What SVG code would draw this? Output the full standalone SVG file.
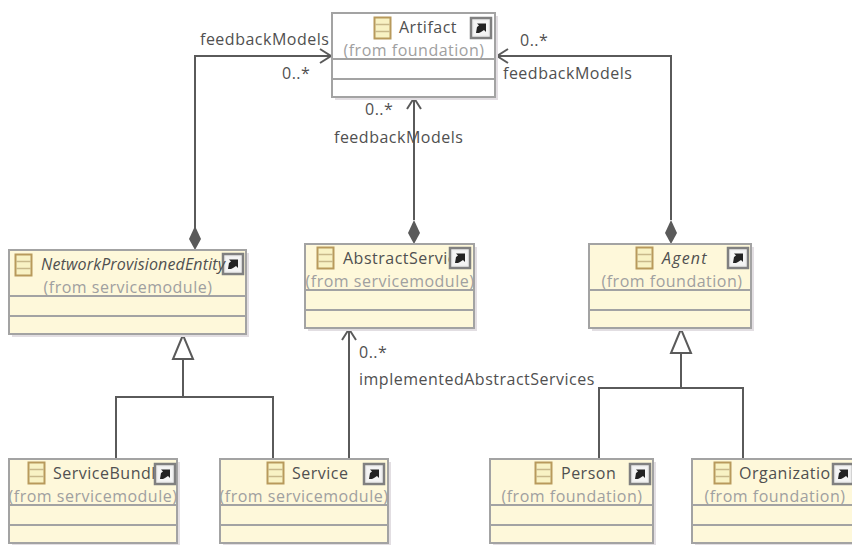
<svg xmlns="http://www.w3.org/2000/svg" xmlns:xlink="http://www.w3.org/1999/xlink" width="852" height="545" viewBox="0 0 852 545">
<style>
text{font-family:"Open Sans","DejaVu Sans",sans-serif;font-size:16px;fill:#505050;letter-spacing:.5px}
.from{fill:#a0a0a0;text-anchor:middle}
.name{fill:#505050}
.box{fill:#fef8da;stroke:#a3a3a3;stroke-width:2}
.white{fill:#fff}
.shadow{fill:#e2dee2}
.sep{stroke:#a3a3a3;stroke-width:2;fill:none}
.conn{fill:none;stroke:#5a5a5a;stroke-width:2}
.diamond{fill:#5a5a5a;stroke:none}
.tri{fill:#fff;stroke:#5a5a5a;stroke-width:2}
</style>
<defs>
<g id="icon"><rect x="0.5" y="0.5" width="16" height="21" fill="#f8f2c4" stroke="#b89a5c" stroke-width="2"/><path d="M1 7.5H16M1 14.5H16" stroke="#c8b98a" stroke-width="1.5" fill="none"/></g>
<g id="link"><rect x="0" y="0" width="20" height="20" fill="#eee" stroke="#808080" stroke-width="2.5"/><rect x="3" y="3" width="14" height="14" fill="#f4f4f4"/><path d="M5 15L6 9L8 7.5L6 5.5H15V14L13 12L10 14L8 15Z" fill="#222"/></g>
<clipPath id="c1"><rect x="9" y="250" width="237" height="46"/></clipPath>
<clipPath id="c2"><rect x="305" y="244" width="145" height="46"/></clipPath>
<clipPath id="c3"><rect x="9" y="459" width="146" height="46"/></clipPath>
<clipPath id="c4"><rect x="692" y="459" width="141" height="46"/></clipPath>
</defs>

<g id="connectors">
<path class="conn" d="M195 235V56H331"/><path class="conn" d="M320 49L331 56L320 63"/>
<polygon class="diamond" points="195,226 201,239 195,250 189,239"/>
<path class="conn" d="M414 220V98"/><path class="conn" d="M407 109L414 98L421 109"/>
<polygon class="diamond" points="414,220 420,233 414,244 408,233"/>
<path class="conn" d="M671 220V56H497"/><path class="conn" d="M508 49L497 56L508 63"/>
<polygon class="diamond" points="671,220 677,233 671,244 665,233"/>
<path class="conn" d="M349 459V329"/><path class="conn" d="M342 340L349 329L356 340"/>
<path class="conn" d="M183 359V397M116 459V397H273V459"/>
<polygon class="tri" points="183,335 173,359 193,359"/>
<path class="conn" d="M681 353V388M599 459V388H743V459"/>
<polygon class="tri" points="681,329 671,353 691,353"/>
</g>

<g id="labels">
<text x="200" y="45">feedbackModels</text>
<text x="282" y="79">0..*</text>
<text x="520" y="46">0..*</text>
<text x="503" y="79">feedbackModels</text>
<text x="365" y="115">0..*</text>
<text x="334" y="143">feedbackModels</text>
<text x="359" y="358">0..*</text>
<text x="359" y="385">implementedAbstractServices</text>
</g>

<g id="artifact">
<rect class="shadow" x="335" y="16" width="163" height="84"/>
<rect class="box white" x="332" y="13" width="163" height="84"/>
<path class="sep" d="M332 59H495M332 79H495"/>
<use xlink:href="#icon" x="374" y="17"/>
<text class="name" x="399" y="33">Artifact</text>
<use xlink:href="#link" x="471" y="18"/>
<text class="from" x="414" y="56">(from foundation)</text>
</g>

<g id="network-provisioned-entity">
<rect class="shadow" x="12" y="253" width="237" height="84"/>
<rect class="box" x="9" y="250" width="237" height="84"/>
<path class="sep" d="M9 296H246M9 316H246"/>
<use xlink:href="#icon" x="15" y="254"/>
<use xlink:href="#link" x="223" y="254"/>
<text class="name" x="41" y="270" font-style="italic" clip-path="url(#c1)" style="letter-spacing:.15px">NetworkProvisionedEntity</text>
<text class="from" x="128" y="293">(from servicemodule)</text>
</g>

<g id="abstract-service">
<rect class="shadow" x="308" y="247" width="169" height="84"/>
<rect class="box" x="305" y="244" width="169" height="84"/>
<path class="sep" d="M305 290H474M305 310H474"/>
<use xlink:href="#icon" x="317" y="247"/>
<text class="name" x="343" y="264" clip-path="url(#c2)">AbstractService</text>
<use xlink:href="#link" x="450" y="248"/>
<text class="from" x="390" y="287">(from servicemodule)</text>
</g>

<g id="agent">
<rect class="shadow" x="592" y="247" width="162" height="84"/>
<rect class="box" x="589" y="244" width="162" height="84"/>
<path class="sep" d="M589 290H751M589 310H751"/>
<use xlink:href="#icon" x="636" y="247"/>
<text class="name" x="662" y="264" font-style="italic" style="letter-spacing:1.2px">Agent</text>
<use xlink:href="#link" x="728" y="248"/>
<text class="from" x="672" y="287">(from foundation)</text>
</g>

<g id="service-bundle">
<rect class="shadow" x="12" y="462" width="168" height="84"/>
<rect class="box" x="9" y="459" width="168" height="84"/>
<path class="sep" d="M9 505H177M9 525H177"/>
<use xlink:href="#icon" x="28" y="462"/>
<text class="name" x="53" y="479" clip-path="url(#c3)">ServiceBundle</text>
<use xlink:href="#link" x="155" y="464"/>
<text class="from" x="93" y="502">(from servicemodule)</text>
</g>

<g id="service">
<rect class="shadow" x="223" y="462" width="168" height="84"/>
<rect class="box" x="220" y="459" width="168" height="84"/>
<path class="sep" d="M220 505H388M220 525H388"/>
<use xlink:href="#icon" x="267" y="462"/>
<text class="name" x="292" y="479">Service</text>
<use xlink:href="#link" x="364" y="464"/>
<text class="from" x="304" y="502">(from servicemodule)</text>
</g>

<g id="person">
<rect class="shadow" x="493" y="462" width="163" height="84"/>
<rect class="box" x="490" y="459" width="163" height="84"/>
<path class="sep" d="M490 505H653M490 525H653"/>
<use xlink:href="#icon" x="535" y="462"/>
<text class="name" x="561" y="479">Person</text>
<use xlink:href="#link" x="630" y="464"/>
<text class="from" x="572" y="502">(from foundation)</text>
</g>

<g id="organization">
<rect class="shadow" x="695" y="462" width="163" height="84"/>
<rect class="box" x="692" y="459" width="163" height="84"/>
<path class="sep" d="M692 505H855M692 525H855"/>
<use xlink:href="#icon" x="714" y="462"/>
<text class="name" x="739" y="479" clip-path="url(#c4)">Organization</text>
<use xlink:href="#link" x="833" y="464"/>
<text class="from" x="775" y="502">(from foundation)</text>
</g>
</svg>
